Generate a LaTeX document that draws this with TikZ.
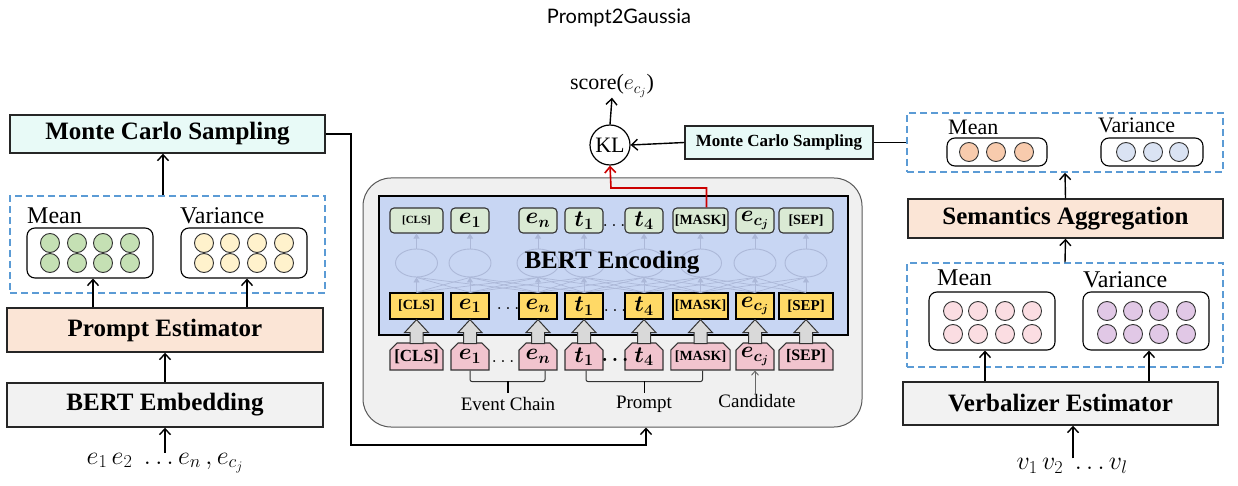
\RequirePackage{fix-cm}
\documentclass[tikz,border=0pt]{standalone}
\usepackage{fontspec}
\usepackage{amsmath}
\setmainfont{Liberation Serif}
\newfontfamily\titlefont{Lato}
\usetikzlibrary{arrows.meta,shapes.misc,shapes.geometric,calc}

\definecolor{peach}{RGB}{251,229,214}
\definecolor{lgray}{RGB}{242,242,242}
\definecolor{mccyan}{RGB}{232,250,247}
\definecolor{dashblue}{RGB}{91,155,213}
\definecolor{cgreen}{RGB}{197,224,180}
\definecolor{cyellow}{RGB}{255,242,204}
\definecolor{cpeach}{RGB}{248,203,173}
\definecolor{cblue}{RGB}{218,227,243}
\definecolor{cpink}{RGB}{251,221,226}
\definecolor{cpurple}{RGB}{225,200,230}
\definecolor{tokgreen}{RGB}{218,234,212}
\definecolor{tokyellow}{RGB}{255,217,102}
\definecolor{tokpink}{RGB}{241,196,206}
\definecolor{bertblue}{RGB}{200,214,243}
\definecolor{bigfill}{RGB}{240,240,240}
\definecolor{faint}{RGB}{172,184,216}
\definecolor{redline}{RGB}{204,0,0}

\newcommand{\fs}[1]{\fontsize{#1}{#1}\selectfont}

\begin{document}
\begin{tikzpicture}[x=1pt,y=-1pt,
  bigbox/.style={draw=black!85, line width=1.4pt, inner sep=0pt, font=\fs{25}\bfseries},
  arr/.style={-{Straight Barb[length=6pt,width=11pt]}, line width=1.4pt},
  dashbox/.style={draw=dashblue, dash pattern=on 7pt off 4pt, line width=1.5pt, inner sep=0pt},
  vecbox/.style={draw=black, rounded corners=8pt, line width=1.1pt, inner sep=0pt},
  dotc/.style={circle, draw=black!80, line width=0.9pt, minimum size=19pt, inner sep=0pt},
  lab/.style={inner sep=0pt},
  tokg/.style={draw=black!80, fill=tokgreen, rounded corners=4pt, line width=1.1pt, inner sep=0pt, minimum height=25pt, font=\bfseries},
  toky/.style={draw=black, fill=tokyellow, line width=1.3pt, inner sep=0pt, minimum height=26pt, font=\bfseries},
  tokp/.style={draw=black!80, fill=tokpink, line width=1.1pt, inner sep=0pt, minimum height=27pt, font=\bfseries,
     chamfered rectangle, chamfered rectangle corners={north west,north east}, chamfered rectangle xsep=4pt},
  hid/.style={ellipse, draw=faint, line width=0.9pt, minimum width=42pt, minimum height=28pt, inner sep=0pt},
  farr/.style={draw=faint, line width=0.9pt, -{Triangle[length=5pt,width=6pt]}},
  fline/.style={draw=faint, line width=0.7pt},
  blockarr/.style={fill=black!15, draw=black!80, line width=1pt},
  redarr/.style={draw=redline, line width=1.6pt, -{Straight Barb[length=6pt,width=11pt]}}
]
\useasboundingbox (0,0) rectangle (1238,486);

% title
\node[font=\titlefont\fs{20}] (title) at (619,18) {Prompt2Gaussia};

% ---------------- left column ----------------
\node[bigbox, fill=mccyan, minimum width=315pt, minimum height=38pt] (mcl) at (167.5,134) {Monte Carlo Sampling};
\node[dashbox, minimum width=315pt, minimum height=97pt] (dl) at (167.5,244.5) {};
\node[vecbox, minimum width=126pt, minimum height=50pt] (meanL) at (90,253) {};
\node[vecbox, minimum width=126pt, minimum height=50pt] (varL) at (244,253) {};
\node[lab, anchor=base west, font=\fs{24}] (meanLl) at (27,224) {Mean};
\node[lab, anchor=base west, font=\fs{24}] (varLl) at (180,224) {Variance};
\foreach \x [count=\i] in {50,77,103,130}{
  \node[dotc, fill=cgreen] (mL1\i) at (\x,243) {};
  \node[dotc, fill=cgreen] (mL2\i) at (\x,263) {};
}
\foreach \x [count=\i] in {204,230,257,284}{
  \node[dotc, fill=cyellow] (vL1\i) at (\x,243) {};
  \node[dotc, fill=cyellow] (vL2\i) at (\x,263) {};
}
\node[bigbox, fill=peach, minimum width=316pt, minimum height=44pt] (pe) at (165,330) {Prompt Estimator};
\node[bigbox, fill=lgray, minimum width=316pt, minimum height=44pt] (bemb) at (165,405) {BERT Embedding};
\node[lab, font=\fs{26}] (inL) at (165,463) {$e_1\,e_2\;\ldots e_n\,,e_{c_j}$};

\draw[arr] (inL.north) -- (inL.north |- bemb.south);
\draw[arr] (bemb.north) -- (pe.south);
\draw[arr] (pe.north -| 93,0) -- (meanL.south -| 93,0);
\draw[arr] (pe.north -| 247,0) -- (varL.south -| 247,0);
\draw[arr] (dl.north -| 163,0) -- (mcl.south -| 163,0);

% ---------------- center ----------------
\node[draw=black!65, fill=bigfill, line width=1pt, rounded corners=28pt, minimum width=499pt, minimum height=249pt, inner sep=0pt] (big) at (612.5,302.5) {};
\node[draw=black, fill=bertblue, line width=2.5pt, minimum width=469pt, minimum height=139pt, inner sep=0pt] (bert) at (613.5,265.5) {};

% hidden network (faint)
\foreach \n/\x in {cls/416.5,e1/470,en/538,t1/584,t4/644,mask/700.5,ecj/755,sep/806}{
  \node[hid] (h\n) at (\x,263) {};
}
% token rows
\foreach \n/\x/\w/\t in {cls/416.5/53/{\fs{11}[CLS]}, e1/470/38/{\fs{23}$\boldsymbol{e_1}$}, en/538/38/{\fs{23}$\boldsymbol{e_n}$}, t1/584/38/{\fs{23}$\boldsymbol{t_1}$}, t4/644/38/{\fs{23}$\boldsymbol{t_4}$}, mask/700.5/55/{\fs{14}[MASK]}, ecj/755/38/{\fs{23}$\boldsymbol{e_{c_j}}$}, sep/806/54/{\fs{14}[SEP]}}{
  \node[tokg, minimum width=\w pt] (g\n) at (\x,220.5) {\t};
}
\foreach \n/\x/\w/\t in {cls/416.5/53/{\fs{14}[CLS]}, e1/470/38/{\fs{23}$\boldsymbol{e_1}$}, en/538/38/{\fs{23}$\boldsymbol{e_n}$}, t1/584/38/{\fs{23}$\boldsymbol{t_1}$}, t4/644/38/{\fs{23}$\boldsymbol{t_4}$}, mask/700.5/55/{\fs{14}[MASK]}, ecj/755/38/{\fs{23}$\boldsymbol{e_{c_j}}$}, sep/806/54/{\fs{15}[SEP]}}{
  \node[toky, minimum width=\w pt] (y\n) at (\x,306) {\t};
}
\foreach \n/\x/\w/\t in {cls/416.5/53/{\fs{17}[CLS]}, e1/470/38/{\fs{23}$\boldsymbol{e_1}$}, en/538/38/{\fs{23}$\boldsymbol{e_n}$}, t1/584/38/{\fs{23}$\boldsymbol{t_1}$}, t4/644/38/{\fs{23}$\boldsymbol{t_4}$}, mask/700.5/55/{\fs{14}[MASK]}, ecj/755/38/{\fs{23}$\boldsymbol{e_{c_j}}$}, sep/806/54/{\fs{16}[SEP]}}{
  \node[tokp, minimum width=\w pt] (p\n) at (\x,356.5) {\t};
}
% faint connections
\foreach \n in {cls,e1,en,t1,t4,mask,ecj,sep}{
  \draw[farr] (y\n.north) -- (h\n.south);
  \draw[farr] (h\n.north) -- (g\n.south);
}
\foreach \a/\b in {cls/e1,e1/cls,e1/en,en/e1,en/t1,t1/en,t1/t4,t4/t1,t4/mask,mask/t4,mask/ecj,ecj/mask,ecj/sep,sep/ecj,cls/en,e1/t1,en/t4,t1/mask,t4/ecj,mask/sep,en/cls,t1/e1,t4/en,mask/t1,ecj/t4,sep/mask}{
  \draw[fline] (y\a.north) -- (h\b.south);
}
\node[lab, font=\fs{25}\bfseries] (benc) at (612,263) {BERT Encoding};

% block arrows
\foreach \n in {cls,e1,en,t1,t4,mask,ecj,sep}{
  \draw[blockarr] (y\n.south) -- +(12,13) -- +(6.5,13) -- +(6.5,24) -- +(-6.5,24) -- +(-6.5,13) -- +(-12,13) -- cycle;
}
% dots
\node[lab, font=\fs{20}] (dy1) at (508,309) {$\ldots$};
\node[lab, font=\fs{20}] (dy2) at (615,311) {$\ldots$};
\node[lab, font=\fs{20}] (dg2) at (614,226) {$\ldots$};
\node[lab, font=\fs{20}] (dp1) at (503,362) {$\ldots$};
\node[lab, font=\fs{20}\bfseries] (dp2) at (615,360) {$\boldsymbol{\ldots}$};

% braces
\draw[line width=1pt, black!80, rounded corners=2pt] (pe1.south) -- ++(0,11) -- ($(pen.south)+(7,11)$) -- ($(pen.south)+(7,0)$);
\draw[line width=2pt] (508,381) -- (508,393);
\draw[line width=1pt, black!80, rounded corners=2pt] ($(pt1.south)+(2,0)$) -- ++(0,11) -- ($(pmask.south)+(2,11)$) -- ($(pmask.south)+(2,0)$);
\draw[line width=1pt] (644,381) -- (644,393);
\node[lab, font=\fs{19}] (evc) at (508,404) {Event Chain};
\node[lab, font=\fs{19}] (prm) at (644,404) {Prompt};
\node[lab, font=\fs{19}] (cand) at (757,401) {Candidate};
\draw[draw=black!60, line width=0.9pt, -{Straight Barb[length=4pt,width=7pt]}] (cand.north -| pecj.south) -- (pecj.south);

% KL and score
\node[circle, draw=black, line width=1.2pt, minimum size=40pt, inner sep=0pt, font=\fs{22}] (kl) at (610,145) {KL};
\node[lab, font=\fs{22}] (score) at (612,86) {score($e_{c_j}$)};
\draw[arr] (kl.north) -- (score.south);
\coordinate (rc) at (611,188);
\draw[redarr] ($(gmask.north)+(6,0)$) |- (rc) -- (kl.south);
\node[bigbox, fill=mccyan, minimum width=188pt, minimum height=33pt, font=\fs{17}\bfseries] (mcr) at (779,142.5) {Monte Carlo Sampling};
\draw[arr] (mcr.west) -- (kl.east);

% path from left MC to big box
\coordinate (c1) at (351,445);
\coordinate (c2) at (646,445);
\draw[arr] (mcl.east) -| (c1) -- (c2) -- (c2 |- big.south);

% ---------------- right column ----------------
\node[dashbox, minimum width=316pt, minimum height=59pt] (dr1) at (1065,142.5) {};
\draw[line width=1.3pt] (mcr.east) -- (dr1.west);
\node[vecbox, minimum width=100pt, minimum height=28pt] (meanR1) at (997,152) {};
\node[vecbox, minimum width=102pt, minimum height=28pt] (varR1) at (1152,152) {};
\node[lab, anchor=base west, font=\fs{22}] (meanR1l) at (948,135) {Mean};
\node[lab, anchor=base west, font=\fs{22}] (varR1l) at (1098,133) {Variance};
\foreach \x [count=\i] in {969,996,1024}{ \node[dotc, fill=cpeach] (mR1\i) at (\x,152) {}; }
\foreach \x [count=\i] in {1126,1153,1179}{ \node[dotc, fill=cblue] (vR1\i) at (\x,152) {}; }

\node[bigbox, fill=peach, minimum width=315pt, minimum height=39pt] (sem) at (1065.5,218.5) {Semantics Aggregation};
\node[dashbox, minimum width=316pt, minimum height=104pt] (dr2) at (1065,315) {};
\node[vecbox, minimum width=126pt, minimum height=58pt] (meanR2) at (992,321) {};
\node[vecbox, minimum width=126pt, minimum height=58pt] (varR2) at (1146,321) {};
\node[lab, anchor=base west, font=\fs{24}] (meanR2l) at (937,285) {Mean};
\node[lab, anchor=base west, font=\fs{24}] (varR2l) at (1083,287) {Variance};
\foreach \x [count=\i] in {953,978,1005,1032}{
  \node[dotc, fill=cpink] (mR2a\i) at (\x,311) {};
  \node[dotc, fill=cpink] (mR2b\i) at (\x,334) {};
}
\foreach \x [count=\i] in {1107,1133,1159,1186}{
  \node[dotc, fill=cpurple] (vR2a\i) at (\x,311) {};
  \node[dotc, fill=cpurple] (vR2b\i) at (\x,334) {};
}
\node[bigbox, fill=lgray, minimum width=315pt, minimum height=43pt] (verb) at (1060.5,403.5) {Verbalizer Estimator};
\node[lab, font=\fs{26}] (vin) at (1072,466) {$v_1\,v_2\;\ldots v_l$};

\draw[arr] (vin.north -| 1073,0) -- (verb.south -| 1073,0);
\draw[arr] (verb.north -| 985,0) -- (meanR2.south -| 985,0);
\draw[arr] (verb.north -| 1149,0) -- (varR2.south -| 1149,0);
\draw[arr] (dr2.north) -- (sem.south);
\draw[arr] (sem.north) -- (dr1.south);
\end{tikzpicture}
\end{document}
